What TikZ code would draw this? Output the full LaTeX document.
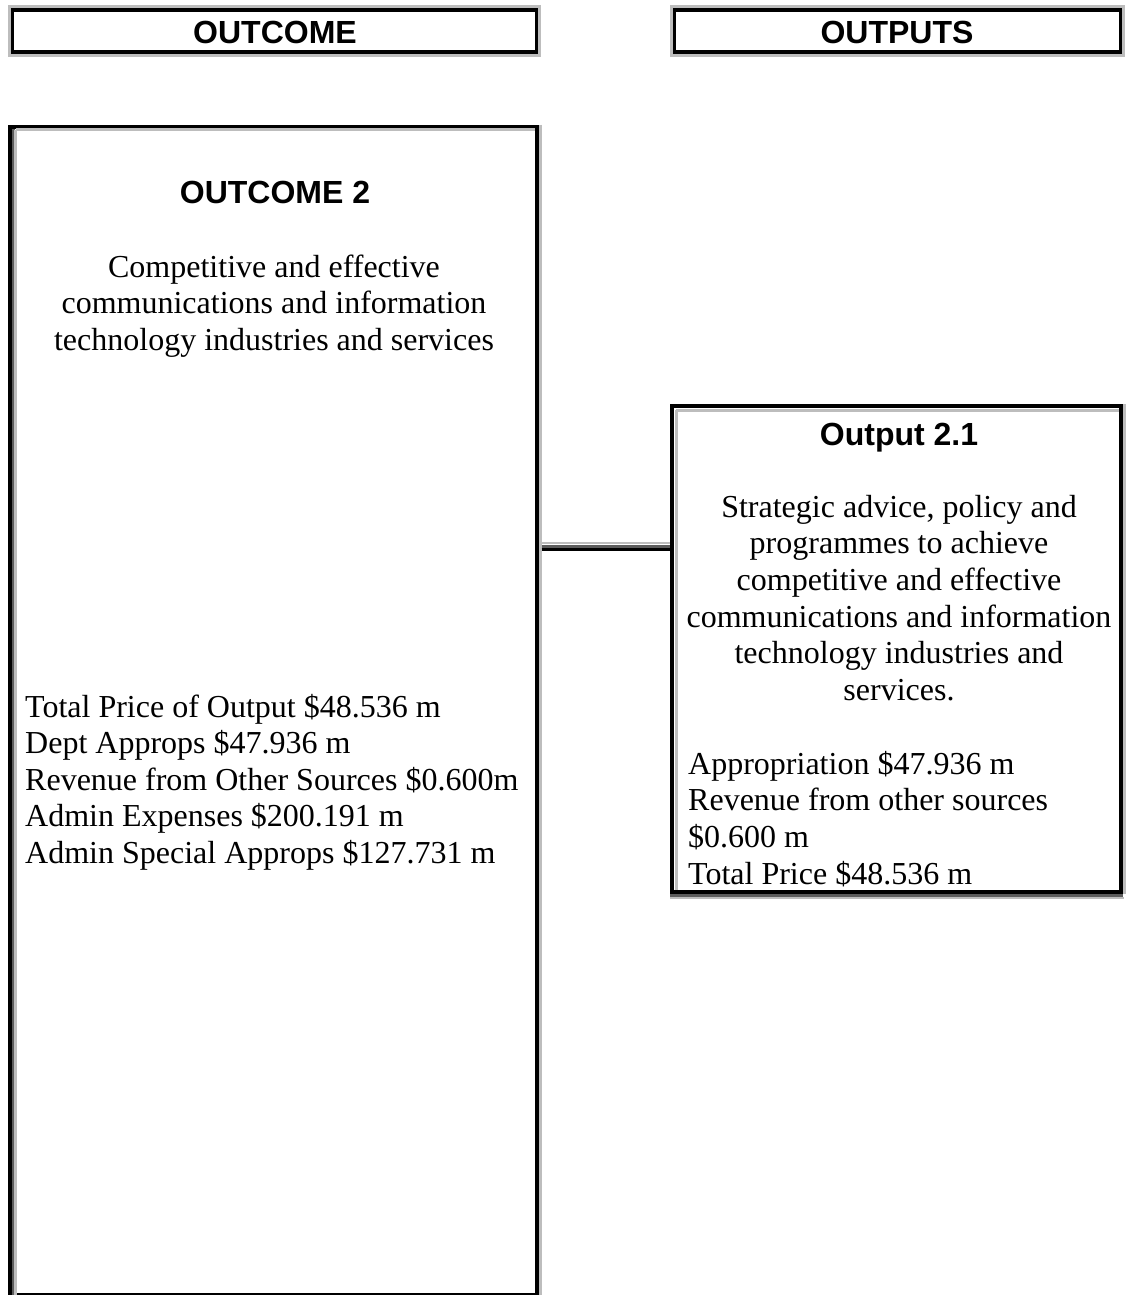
\documentclass[tikz,border=0pt]{standalone}
\usepackage{fontspec}
\setmainfont{Liberation Serif}
\setsansfont{Liberation Sans}
\usetikzlibrary{calc}
\definecolor{lg}{gray}{0.74}
\definecolor{dg}{gray}{0.36}
\begin{document}
\begin{tikzpicture}[x=1pt,y=-1pt,
  frame/.style={draw=black, line width=3.6pt, inner sep=0pt, outer sep=0pt, anchor=north west},
  hd/.style={font=\sffamily\bfseries\fontsize{32}{37}\selectfont, inner sep=0pt, anchor=base},
  body/.style={font=\rmfamily\fontsize{32}{37}\selectfont, inner sep=0pt},
  shadeL/.style={lg, line width=3pt},
  shadeD/.style={dg, line width=3pt}]
\useasboundingbox (0,0) rectangle (1126,1295);
\fill[white] (0,0) rectangle (1126,1295);

% header boxes
\node[frame, minimum width=524pt, minimum height=42pt] (hdrA) at (12.5,10) {};
\draw[shadeL] ($(hdrA.north west)+(-3.2,-3.2)$) rectangle ($(hdrA.south east)+(3.2,3.2)$);
\node[frame, minimum width=446pt, minimum height=42pt] (hdrB) at (674.5,10) {};
\draw[shadeL] ($(hdrB.north west)+(-3.2,-3.2)$) rectangle ($(hdrB.south east)+(3.2,3.2)$);
\node[hd] (tA) at (275,44) {OUTCOME};
\node[hd] (tB) at (897,44) {OUTPUTS};

% outcome box
\node[frame, minimum width=527pt, minimum height=1168pt] (outcome) at (9.8,126.8) {};
\draw[shadeD] ($(outcome.north west)+(3.2,1.8)$) -- ($(outcome.south west)+(3.2,0)$);
\draw[shadeL] ($(outcome.north west)+(5.8,3.2)$) -- ($(outcome.south west)+(5.8,0)$);
\draw[shadeL] ($(outcome.north west)+(5.8,3.2)$) -- ($(outcome.north east)+(-1.8,3.2)$);
\draw[shadeL] ($(outcome.north east)+(3.2,-1.8)$) -- ($(outcome.south east)+(3.2,0)$);

% output box
\node[frame, minimum width=449pt, minimum height=486pt] (output) at (672,406) {};
\draw[shadeL] ($(output.north west)+(4.2,4.2)$) -- ($(output.south west)+(4.2,-1.8)$);
\draw[shadeL] ($(output.north west)+(4.2,4.2)$) -- ($(output.north east)+(-1.8,4.2)$);
\draw[shadeL] ($(output.north east)+(3.2,-1.8)$) -- ($(output.south east)+(3.2,1.8)$);
\draw[shadeD] ($(output.south west)+(-1.8,3.2)$) -- ($(output.south east)+(1.8,3.2)$);
\draw[lg, line width=2pt] ($(output.south west)+(-1.8,5.8)$) -- ($(output.south east)+(3.2,5.8)$);

% connector
\coordinate (j1) at (0,543);
\coordinate (j2) at (0,546);
\coordinate (j3) at (0,549.5);
\draw[lg, line width=2pt] ([xshift=4.8pt]outcome.east |- j1) -- ([xshift=-1.8pt]output.west |- j1);
\draw[dg, line width=3pt] ([xshift=4.8pt]outcome.east |- j2) -- ([xshift=-1.8pt]output.west |- j2);
\draw[black, line width=3.5pt] ([xshift=4.8pt]outcome.east |- j3) -- ([xshift=-1.8pt]output.west |- j3);

% outcome texts
\node[hd] (oct) at (275,203) {OUTCOME 2};
\foreach \t [count=\i] in {Competitive and effective, communications and information, technology industries and services}
  \node[body, anchor=base] (oc\i) at (274,{277+36.7*(\i-1)}) {\t};
\foreach \t [count=\i] in {Total Price of Output \$48.536 m, Dept Approps \$47.936 m, Revenue from Other Sources \$0.600m, Admin Expenses \$200.191 m, Admin Special Approps \$127.731 m}
  \node[body, anchor=base west] (of\i) at (25,{717+36.6*(\i-1)}) {\t};

% output texts
\node[hd] (opt) at (899,445) {Output 2.1};
\foreach \t [count=\i] in {{Strategic advice, policy and}, programmes to achieve, competitive and effective, communications and information, technology industries and, services.}
  \node[body, anchor=base] (op\i) at (899,{517+36.7*(\i-1)}) {\t};
\foreach \t [count=\i] in {Appropriation \$47.936 m, Revenue from other sources, \$0.600 m, Total Price \$48.536 m}
  \node[body, anchor=base west] (oq\i) at (688,{774+36.9*(\i-1)}) {\t};
\end{tikzpicture}
\end{document}
